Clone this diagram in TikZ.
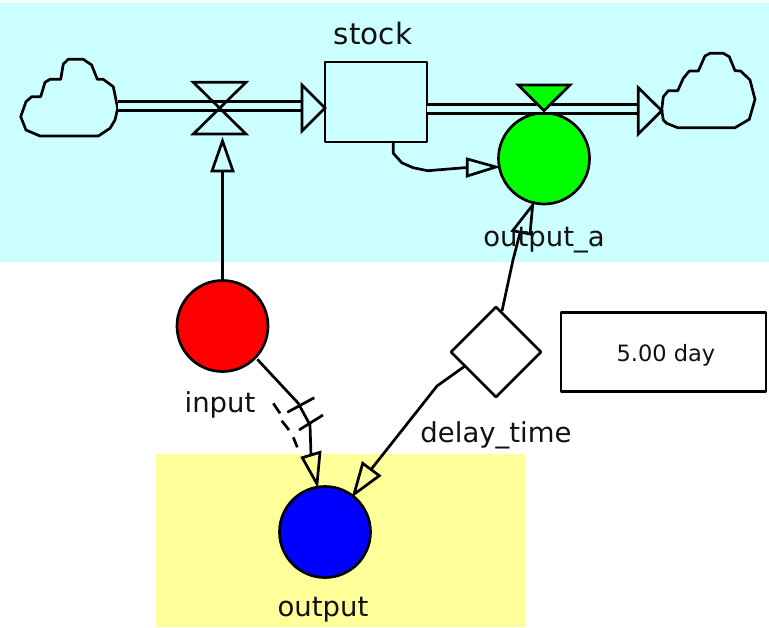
\documentclass[tikz,border=0pt]{standalone}
\usepackage{fontspec}
\setmainfont{DejaVu Sans}
\usetikzlibrary{shapes.geometric}
\definecolor{bgcyan}{HTML}{CCFFFF}
\definecolor{bgyellow}{HTML}{FFFF99}
\definecolor{labelink}{HTML}{111111}
\tikzset{
  ln/.style={line width=2.7pt,draw=black,line join=round},
  conv/.style={circle,ln,minimum size=91pt,inner sep=0pt},
  lab/.style={text=labelink,font=\fontsize{27.5}{32}\selectfont,inner sep=0pt},
  flowline/.style={ln,double=bgcyan,double distance=5.9pt},
  opentri/.style={ln,line join=miter},
}
\begin{document}
\begin{tikzpicture}[x=1pt,y=-1pt]
\useasboundingbox (0,0) rectangle (769,627);
\fill[white] (0,0) rectangle (769,627);
\fill[bgcyan] (0,3) rectangle (769,262);
\fill[bgyellow] (156,454) rectangle (525,627);
% nodes
\node[draw,ln,minimum width=102pt,minimum height=80pt,inner sep=0pt] (stock) at (376,102) {};
\node[conv,fill=green] (outa) at (544,158.5) {};
\node[conv,fill=red] (input) at (222.5,326) {};
\node[conv,fill=blue] (output) at (325,532) {};
\node[diamond,ln,fill=white,minimum width=91pt,minimum height=91pt,inner sep=0pt,aspect=1] (delay) at (496,352) {};
\node[draw,ln,fill=white,minimum width=205pt,minimum height=79pt,inner sep=0pt] (const) at (663.5,352) {};
% clouds
\draw[ln] (117.7,108.3)--(113.3,86.7)--(110,84.3)--(103.3,79.3)--(97.3,79.3)--(91.7,65)--(83.3,59.3)--(68.3,59.3)--(63.3,64)--(60.7,79.3)--(50,79.3)--(45,82.3)--(40.7,96.7)--(31.7,96.7)--(26,101.7)--(20.7,116.7)--(26,130)--(40,136)--(98.3,136)--(110,128.3)--(115,120)--cycle;
\draw[ln] (661.7,110)--(663.3,96.7)--(668.3,90.7)--(677.7,90.7)--(683.3,78.3)--(689.3,71)--(698.3,71)--(705,56)--(710,53.3)--(723.3,53.3)--(729.3,56.7)--(735,70.7)--(740.7,71)--(750,80)--(755,99.3)--(749.3,119.3)--(735,127.7)--(677.7,127.7)--(666.7,123.3)--(663.3,120)--cycle;
\coordinate (cloudL) at (117.7,106);
\coordinate (tipL) at (302,106);
\coordinate (stockout) at (427,109);
\coordinate (tipR) at (638,109);
\coordinate (stockbot) at (393.3,142);
\coordinate (inputtop) at (222.5,280.5);
\coordinate (valvebase) at (222.5,171);
\coordinate (inputout) at (257.3,359.3);
\coordinate (delaytop) at (502,311);
\coordinate (delayout) at (465,366);
% flows
\draw[flowline] (cloudL) -- (tipL);
\draw[opentri] (302,85)--(325,108)--(302,131)--cycle;
\draw[flowline] (stockout) -- (tipR);
\draw[opentri] (638.3,87.7)--(661.7,110.7)--(638.3,134)--cycle;
% valves
\draw[opentri] (193.3,82.3)--(246,82.3)--(193.3,134)--(246,134)--cycle;
\draw[opentri,fill=green] (518.3,85)--(570,85)--(544,110.7)--cycle;
% connectors
\draw[ln] (inputtop) -- (valvebase);
\draw[opentri] (212,171)--(222.5,141)--(233,171)--cycle;
\draw[ln] (stockbot) -- (393.3,153.3) -- (401.7,162.7) -- (413,167.7) -- (427.7,170.7) -- (467.3,167.5);
\draw[opentri] (467.3,159)--(496,167)--(467.3,176)--cycle;
\draw[ln] (delaytop) -- (513,260) -- (520,233);
\draw[opentri] (512.7,230.7)--(532.7,205)--(530,234)--cycle;
\draw[ln] (inputout) -- (298.3,403.3) -- (310,425) -- (311,455);
\draw[opentri] (302.3,457.7)--(320,452.3)--(317,484)--cycle;
\draw[ln] (delayout) -- (437,386) -- (371,469.5);
\draw[opentri] (362.7,463.3)--(379.3,475.7)--(354,494.3)--cycle;
% delay marks
\draw[ln] (287.3,412.3)--(314.3,397.7);
\draw[ln] (299,430)--(323,415);
\draw[ln] (273.3,403.3)--(280,413.3);
\draw[ln] (281.7,420.7)--(289,430);
\draw[ln] (293.3,437.3)--(297.3,447.3);
% labels
\node[lab,font=\fontsize{29.5}{34}\selectfont] (lstock) at (373,33) {stock};
\node[lab] (louta) at (544,240.5) {output\_a};
\node[lab] (linput) at (220,405) {input};
\node[lab] (ldelay) at (496,435.5) {delay\_time};
\node[lab] (loutput) at (323,609.5) {output};
\node[lab,font=\fontsize{22.5}{26}\selectfont] (lconst) at (666,355) {5.00 day};
\end{tikzpicture}
\end{document}
